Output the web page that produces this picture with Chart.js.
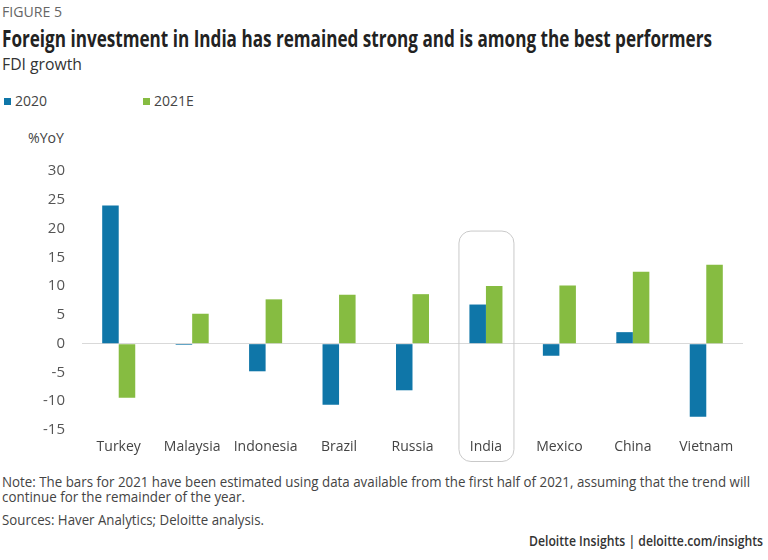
<!DOCTYPE html>
<html><head><meta charset="utf-8">
<script src="https://cdn.jsdelivr.net/npm/chart.js@4/dist/chart.umd.min.js"></script>
<style>
html,body{margin:0;padding:0;background:#fff;width:768px;height:560px;overflow:hidden;font-family:"Open Sans",sans-serif;}
.t{position:absolute;white-space:nowrap;transform-origin:0 50%;line-height:1;}
#chartBox{position:absolute;left:0;top:145px;width:768px;height:320px;}
.sq{display:inline-block;width:7px;height:7px;margin-right:4px;vertical-align:middle;position:relative;top:-1px;}
</style></head><body>
<div class="t" data-w="60" style="left:2px;top:5px;font-size:14px;color:#666;">FIGURE 5</div>
<div class="t" data-w="710" style="left:2px;top:27px;font-size:23px;font-weight:700;color:#222;">Foreign investment in India has remained strong and is among the best performers</div>
<div class="t" data-w="80" style="left:2px;top:56px;font-size:16px;color:#333;">FDI growth</div>
<div id="legend"></div>
<div class="t" data-w="36" style="left:28px;top:131px;font-size:14px;color:#444;">%YoY</div>
<div class="t" data-w="748" style="left:2px;top:475px;font-size:14px;color:#444;">Note: The bars for 2021 have been estimated using data available from the first half of 2021, assuming that the trend will</div>
<div class="t" data-w="243" style="left:2px;top:490px;font-size:14px;color:#444;">continue for the remainder of the year.</div>
<div class="t" data-w="262" style="left:2px;top:513px;font-size:14px;color:#444;">Sources: Haver Analytics; Deloitte analysis.</div>
<div class="t" data-w="234" style="left:529px;top:534px;font-size:14px;font-weight:600;color:#333;">Deloitte Insights | deloitte.com/insights</div>
<div id="chartBox"><canvas id="c"></canvas></div>
<script>
const categories = ["Turkey","Malaysia","Indonesia","Brazil","Russia","India","Mexico","China","Vietnam"];
const seriesNames = ["2020","2021E"];
const values2020 = [24.0, -0.2, -4.8, -10.6, -8.1, 6.8, -2.1, 2.0, -12.7];
const values2021E = [-9.4, 5.2, 7.7, 8.5, 8.6, 10.0, 10.1, 12.5, 13.7];
const yTicks = [-15,-10,-5,0,5,10,15,20,25,30];
const highlightCategory = "India";

const colors = ["#0f76a8","#86bc41"];

const lg = document.getElementById('legend');
const legendX = [4,143];
seriesNames.forEach((n,i)=>{
  const d=document.createElement('div');
  d.className='t';
  d.style.cssText=`left:${legendX[i]}px;top:94px;font-size:14px;color:#444;`;
  d.innerHTML=`<span class="sq" style="background:${colors[i]}"></span>${n}`;
  lg.appendChild(d);
});

document.querySelectorAll('.t[data-w]').forEach(el=>{
  const w=el.getBoundingClientRect().width;
  const target=+el.dataset.w;
  el.style.transform=`scaleX(${target/w})`;
});

const highlightPlugin={
  id:'hl',
  afterDatasetsDraw(chart){
    const x=chart.scales.x,y=chart.scales.y,ctx=chart.ctx;
    const idx=categories.indexOf(highlightCategory);
    const cx=x.getPixelForValue(idx);
    const w=55,left=cx-w/2;
    const top=y.getPixelForValue(20)+2;
    const bottom=chart.chartArea.bottom+31;
    ctx.save();
    ctx.strokeStyle='#c9c9c9';ctx.lineWidth=1;
    ctx.beginPath();
    ctx.roundRect(left+0.5,top+0.5,w,bottom-top,12);
    ctx.stroke();
    ctx.restore();
  }
};

new Chart(document.getElementById('c'),{
  type:'bar',
  data:{labels:categories,datasets:[
    {label:seriesNames[0],data:values2020,backgroundColor:colors[0]},
    {label:seriesNames[1],data:values2021E,backgroundColor:colors[1]}
  ]},
  options:{
    responsive:true,maintainAspectRatio:false,animation:false,
    layout:{padding:{top:5,right:25,left:0,bottom:0}},
    categoryPercentage:0.45,barPercentage:1.0,
    plugins:{legend:{display:false},tooltip:{enabled:false}},
    scales:{
      x:{
        grid:{display:false},border:{display:false},
        ticks:{color:'#444',font:{family:'Open Sans',size:14},padding:1,maxRotation:0},
        afterFit(s){s.height=35;}
      },
      y:{
        min:-15,max:30,
        afterBuildTicks(s){s.ticks=yTicks.map(v=>({value:v}));},
        grid:{drawTicks:false,tickLength:0,color:(c)=>c.tick&&c.tick.value===0?'#d9d9d9':'rgba(0,0,0,0)',lineWidth:1},
        border:{display:false},
        ticks:{color:'#555',font:{family:'Open Sans',size:15},padding:17},
        afterFit(s){s.width=82;}
      }
    }
  },
  plugins:[highlightPlugin]
});
</script>
</body></html>
